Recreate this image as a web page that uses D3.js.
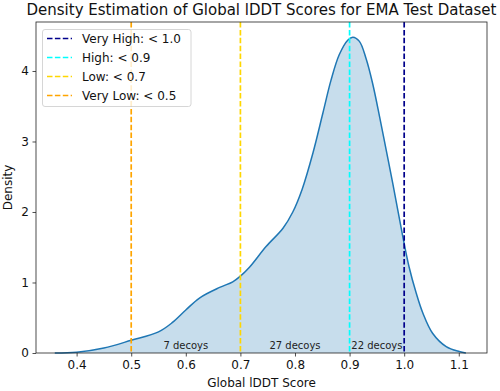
<!DOCTYPE html>
<html><head><meta charset="utf-8">
<script src="https://cdn.jsdelivr.net/npm/d3@7"></script>
<style>body{margin:0;background:#fff}svg{display:block}text{font-family:"DejaVu Sans",sans-serif}</style>
</head><body>
<svg id="c" width="500" height="391"></svg>
<script>
const scores = [0.36,0.40,0.45,0.50,0.55,0.575,0.60,0.625,0.662,0.686,0.70,0.717,0.747,0.778,0.796,0.813,0.833,0.851,0.866,0.881,0.897,0.906,0.918,0.930,0.942,0.955,0.967,0.979,0.998,1.009,1.022,1.034,1.052,1.077,1.101,1.113];
const density = [0,0.01,0.07,0.18,0.30,0.43,0.61,0.78,0.93,1.01,1.09,1.22,1.51,1.77,2.00,2.32,2.84,3.40,3.87,4.23,4.44,4.48,4.42,4.18,3.83,3.35,2.88,2.41,1.63,1.22,0.85,0.57,0.28,0.09,0.02,0];
const thresholds = [1.0, 0.9, 0.7, 0.5];
const thresholdLabels = ["Very High: < 1.0", "High: < 0.9", "Low: < 0.7", "Very Low: < 0.5"];
const thresholdColors = ["#00008b", "#00ffff", "#ffd700", "#ffa500"];
const decoyPos = [0.6, 0.8, 0.95];
const decoyLabels = ["7 decoys", "27 decoys", "22 decoys"];
const xTicks = [0.4,0.5,0.6,0.7,0.8,0.9,1.0,1.1];
const yTicks = [0,1,2,3,4];

const svg = d3.select("#c");
const L=36, R=487, T=22, B=353;
const x = d3.scaleLinear().domain([0.3256,1.1517]).range([L,R]);
const y = d3.scaleLinear().domain([0,4.695]).range([B,T]);

const pts = scores.map((s,i)=>[s,density[i]]);
svg.append("path").datum(pts)
  .attr("d", d3.area().x(d=>x(d[0])).y0(y(0)).y1(d=>y(d[1])).curve(d3.curveCatmullRom))
  .attr("fill","#1f77b4").attr("fill-opacity",0.25);
svg.append("path").datum(pts)
  .attr("d", d3.line().x(d=>x(d[0])).y(d=>y(d[1])).curve(d3.curveCatmullRom))
  .attr("fill","none").attr("stroke","#1f77b4").attr("stroke-width",1.5);

thresholds.forEach((t,i)=>{
  svg.append("line").attr("x1",x(t)).attr("x2",x(t)).attr("y1",T).attr("y2",B)
    .attr("stroke",thresholdColors[i]).attr("stroke-width",1.7).attr("stroke-dasharray","5.5,2.4");
});

decoyLabels.forEach((l,i)=>{
  svg.append("text").attr("x",x(decoyPos[i])).attr("y",349).attr("text-anchor","middle")
    .attr("font-size",10).attr("fill","#222").text(l);
});

const xa = svg.append("g").attr("transform",`translate(0,${B})`)
  .call(d3.axisBottom(x).tickValues(xTicks).tickFormat(d3.format(".1f")).tickSizeOuter(0).tickSize(3.5).tickPadding(3.5));
const ya = svg.append("g").attr("transform",`translate(${L},0)`)
  .call(d3.axisLeft(y).tickValues(yTicks).tickFormat(d3.format("d")).tickSizeOuter(0).tickSize(3.5).tickPadding(3.5));
[xa,ya].forEach(a=>{a.select(".domain").remove();a.selectAll("text").attr("font-size",12).attr("fill","#111").attr("font-family","DejaVu Sans");a.selectAll("line").attr("stroke","#222").attr("stroke-width",0.8);});

svg.append("rect").attr("x",L).attr("y",T).attr("width",R-L).attr("height",B-T)
  .attr("fill","none").attr("stroke","#222").attr("stroke-width",0.8);

// legend
const lg = svg.append("g");
lg.append("rect").attr("x",42.5).attr("y",29.5).attr("width",148.5).attr("height",77).attr("rx",2.5)
  .attr("fill","#fff").attr("fill-opacity",0.8).attr("stroke","#ccc").attr("stroke-width",0.8);
thresholdLabels.forEach((l,i)=>{
  const cy = 38.5 + i*19;
  lg.append("line").attr("x1",47).attr("x2",72).attr("y1",cy).attr("y2",cy)
    .attr("stroke",thresholdColors[i]).attr("stroke-width",1.7).attr("stroke-dasharray","5.5,2.4");
  lg.append("text").attr("x",82).attr("y",cy+4.3).attr("font-size",12).attr("fill","#111").text(l);
});

svg.append("text").attr("x",(L+R)/2).attr("y",387).attr("text-anchor","middle").attr("font-size",12).attr("fill","#111").text("Global lDDT Score");
svg.append("text").attr("transform",`translate(12,${(T+B)/2}) rotate(-90)`).attr("text-anchor","middle").attr("font-size",12).attr("fill","#111").text("Density");
svg.append("text").attr("x",(L+R)/2).attr("y",15).attr("text-anchor","middle").attr("font-size",15).attr("fill","#111").text("Density Estimation of Global lDDT Scores for EMA Test Dataset");
</script>
</body></html>
